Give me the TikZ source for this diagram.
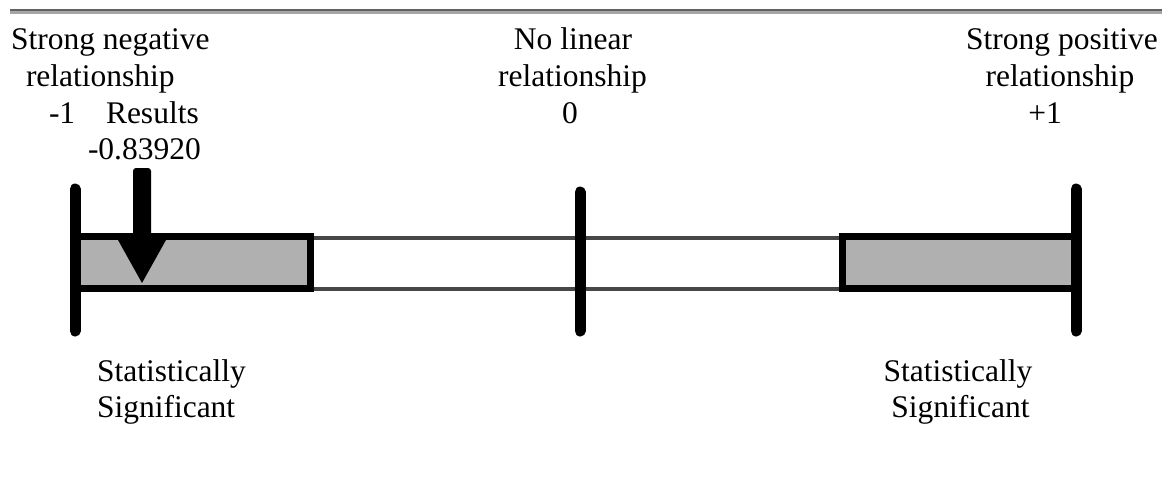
\documentclass[tikz,border=0pt]{standalone}
\usepackage{fontspec}
\setmainfont{Liberation Serif}
\begin{document}
\begin{tikzpicture}[x=1pt,y=-1pt,
  txt/.style={inner sep=0pt,outer sep=0pt,font=\fontsize{31.5}{36}\selectfont},
  thinrail/.style={line width=4pt,draw=black!72},
  sigbox/.style={line width=7pt,draw=black,fill=black!31},
  tickbar/.style={line width=11pt,draw=black,line cap=round}]
\useasboundingbox (0,0) rectangle (1168,487);
% top rule
\fill[black!62] (10,9) rectangle (1162,11.5);
\fill[black!35] (10,11.5) rectangle (1162,14);
% rails
\coordinate (L) at (75,0);
\coordinate (M) at (580,0);
\coordinate (R) at (1076,0);
\draw[thinrail] (75,237.5) -- (1075,237.5);
\draw[thinrail] (75,289) -- (1075,289);
% significant boxes
\draw[sigbox] (75,236) rectangle (310,288);
\draw[sigbox] (842,236) rectangle (1075,288);
% tick bars
\draw[tickbar] (L |- 0,189) -- (L |- 0,331);
\draw[tickbar] (M |- 0,192) -- (M |- 0,331);
\draw[tickbar] (R |- 0,189) -- (R |- 0,331);
% result arrow
\fill[black,rounded corners=3pt] (133,168) rectangle (151,244);
\fill[black] (118,240) -- (166,240) -- (142,283) -- cycle;
% texts left
\node[txt,anchor=base west] (t1) at (11,50) {Strong negative};
\node[txt,anchor=base west] (t2) at (26,87) {relationship};
\node[txt,anchor=base west] (t3) at (49,123) {-1};
\node[txt,anchor=base west] (t4) at (106,123) {Results};
\node[txt,anchor=base west] (t5) at (88,159) {-0.83920};
% texts middle
\node[txt,anchor=base] (m1) at (573,50) {No linear};
\node[txt,anchor=base] (m2) at (572.5,87) {relationship};
\node[txt,anchor=base] (m3) at (570,123) {0};
% texts right
\node[txt,anchor=base] (r1) at (1062,50) {Strong positive};
\node[txt,anchor=base] (r2) at (1060,87) {relationship};
\node[txt,anchor=base] (r3) at (1045,123) {+1};
% bottom labels
\node[txt,anchor=base west] (s1) at (97,381) {Statistically};
\node[txt,anchor=base west] (s2) at (97,417) {Significant};
\node[txt,anchor=base] (s3) at (958,381) {Statistically};
\node[txt,anchor=base] (s4) at (960.5,417) {Significant};
\end{tikzpicture}
\end{document}
